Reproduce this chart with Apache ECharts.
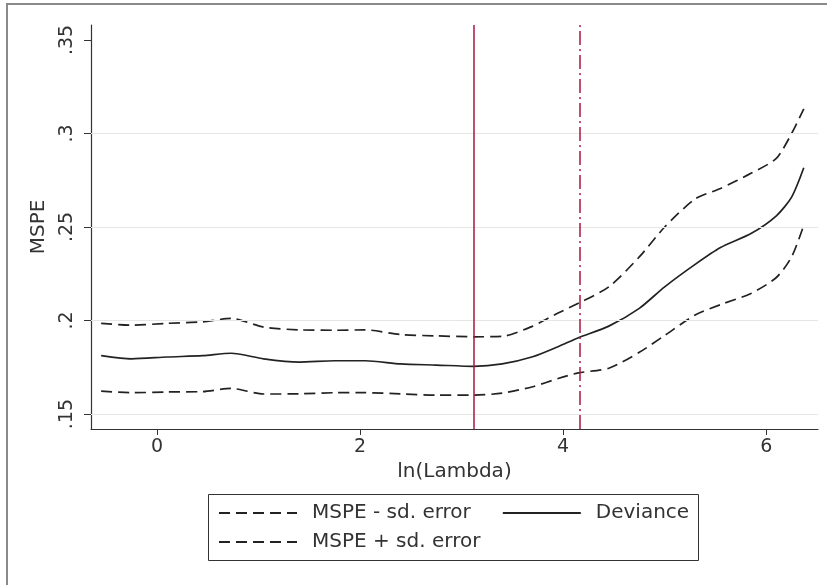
<!DOCTYPE html>
<html>
<head>
<meta charset="utf-8">
<script src="https://cdn.jsdelivr.net/npm/echarts@6/dist/echarts.min.js"></script>
<style>
  html, body { margin: 0; padding: 0; background: #fff; }
  #chart { width: 827px; height: 585px; }
</style>
</head>
<body>
<div id="chart"></div>
<script>
// ln(lambda) grid the curves are read at
const lambdas = [-0.55, -0.25, 0.1, 0.45, 0.73, 1.05, 1.4, 1.75, 2.05, 2.4, 2.75, 3.12, 3.4, 3.7, 3.95, 4.15, 4.45, 4.75, 5.0, 5.3, 5.55, 5.85, 6.1, 6.25, 6.37]

const mspeLower = [0.1623, 0.1614, 0.1618, 0.1620, 0.1637, 0.1607, 0.1608, 0.1614, 0.1614, 0.1608, 0.1601, 0.1601, 0.1612, 0.1646, 0.1690, 0.1720, 0.1745, 0.1830, 0.1920, 0.2030, 0.2085, 0.2145, 0.2230, 0.2340, 0.2509]
const deviance = [0.1812, 0.1795, 0.1805, 0.1812, 0.1825, 0.1795, 0.1778, 0.1785, 0.1785, 0.1768, 0.1762, 0.1755, 0.1768, 0.1806, 0.1860, 0.1908, 0.1970, 0.2065, 0.2180, 0.2300, 0.2390, 0.2465, 0.2560, 0.2660, 0.2817]
const mspeUpper = [0.1985, 0.1975, 0.1985, 0.1993, 0.2011, 0.1965, 0.1950, 0.1948, 0.1950, 0.1925, 0.1918, 0.1913, 0.1915, 0.1970, 0.2040, 0.2092, 0.2180, 0.2340, 0.2500, 0.2650, 0.2706, 0.2787, 0.2867, 0.3000, 0.3132]

const xTicks = [0, 2, 4, 6]
const yTicks = [0.15, 0.2, 0.25, 0.3, 0.35]
const yGrid = [0.15, 0.2, 0.25, 0.3]

const lambdaMin = 3.12
const lambdaLse = 4.16

const ink = "#333"
const red = "#a8173f"
const font = "DejaVu Sans"

const pairs = (ys) => lambdas.map((x, i) => [x, ys[i]])

const chart = echarts.init(document.getElementById("chart"))

const lineSeries = (name, ys, dashed) => ({
  name: name,
  type: "line",
  data: pairs(ys),
  symbol: "none",
  smooth: 0.25,
  silent: true,
  lineStyle: {
    color: "#222",
    width: 1.7,
    type: dashed ? [11, 6] : "solid"
  },
  itemStyle: { color: "#222" }
})

const legendBase = {
  orient: "horizontal",
  itemWidth: 78,
  itemHeight: 14,
  itemGap: 31,
  padding: 0,
  selectedMode: false,
  itemStyle: { opacity: 0 },
  textStyle: {
    fontFamily: font,
    fontSize: 20,
    color: ink,
    lineHeight: 24,
    padding: [0, 0, 0, 10]
  }
}

chart.setOption({
  animation: false,
  backgroundColor: "#fff",
  grid: { left: 91, right: 9, top: 25, bottom: 156 },
  legend: [
    Object.assign({}, legendBase, { left: 218, top: 501, data: ["MSPE - sd. error", "Deviance"] }),
    Object.assign({}, legendBase, { left: 218, top: 530, data: ["MSPE + sd. error"] })
  ],
  graphic: [
    {
      type: "rect",
      shape: { x: 208.5, y: 494.5, width: 490, height: 66 },
      style: { fill: "none", stroke: "#333", lineWidth: 1 }
    },
    {
      type: "polyline",
      shape: { points: [[7, 585], [7, 4], [827, 4]] },
      style: { fill: "none", stroke: "#8a8a8a", lineWidth: 2 }
    }
  ],
  xAxis: {
    type: "value",
    min: -0.65,
    max: 6.51,
    name: "ln(Lambda)",
    nameLocation: "middle",
    nameGap: 33,
    nameTextStyle: { fontFamily: font, fontSize: 20, color: ink },
    axisLine: { onZero: false, lineStyle: { color: ink, width: 1.2 } },
    axisTick: { customValues: xTicks, length: 6, lineStyle: { color: ink } },
    axisLabel: {
      customValues: xTicks,
      margin: 9,
      fontFamily: font,
      fontSize: 19,
      color: ink
    },
    splitLine: { show: false }
  },
  yAxis: {
    type: "value",
    min: 0.142,
    max: 0.358,
    name: "MSPE",
    nameLocation: "middle",
    nameRotate: 90,
    nameGap: 42,
    nameTextStyle: { fontFamily: font, fontSize: 20, color: ink },
    axisLine: { show: true, onZero: false, lineStyle: { color: ink, width: 1.2 } },
    axisTick: { show: true, customValues: yTicks, length: 7, lineStyle: { color: ink } },
    axisLabel: {
      customValues: yTicks,
      rotate: 90,
      margin: 14,
      fontFamily: font,
      fontSize: 19,
      color: ink,
      formatter: (v) => String(+v.toFixed(2)).replace(/^0/, "")
    },
    splitLine: { show: false }
  },
  series: [
    Object.assign(lineSeries("MSPE - sd. error", mspeLower, true), {
      markLine: {
        silent: true,
        symbol: "none",
        label: { show: false },
        lineStyle: { color: "#e6e6e6", width: 1, type: "solid" },
        data: yGrid.map((v) => ({ yAxis: v }))
      }
    }),
    lineSeries("Deviance", deviance, false),
    Object.assign(lineSeries("MSPE + sd. error", mspeUpper, true), {
      markLine: {
        silent: true,
        symbol: "none",
        label: { show: false },
        data: [
          { xAxis: lambdaMin, lineStyle: { color: red, width: 1.5, type: "solid" } },
          { xAxis: lambdaLse, lineStyle: { color: red, width: 1.5, type: [14, 4, 2, 4] } }
        ]
      }
    })
  ]
})
</script>
</body>
</html>
